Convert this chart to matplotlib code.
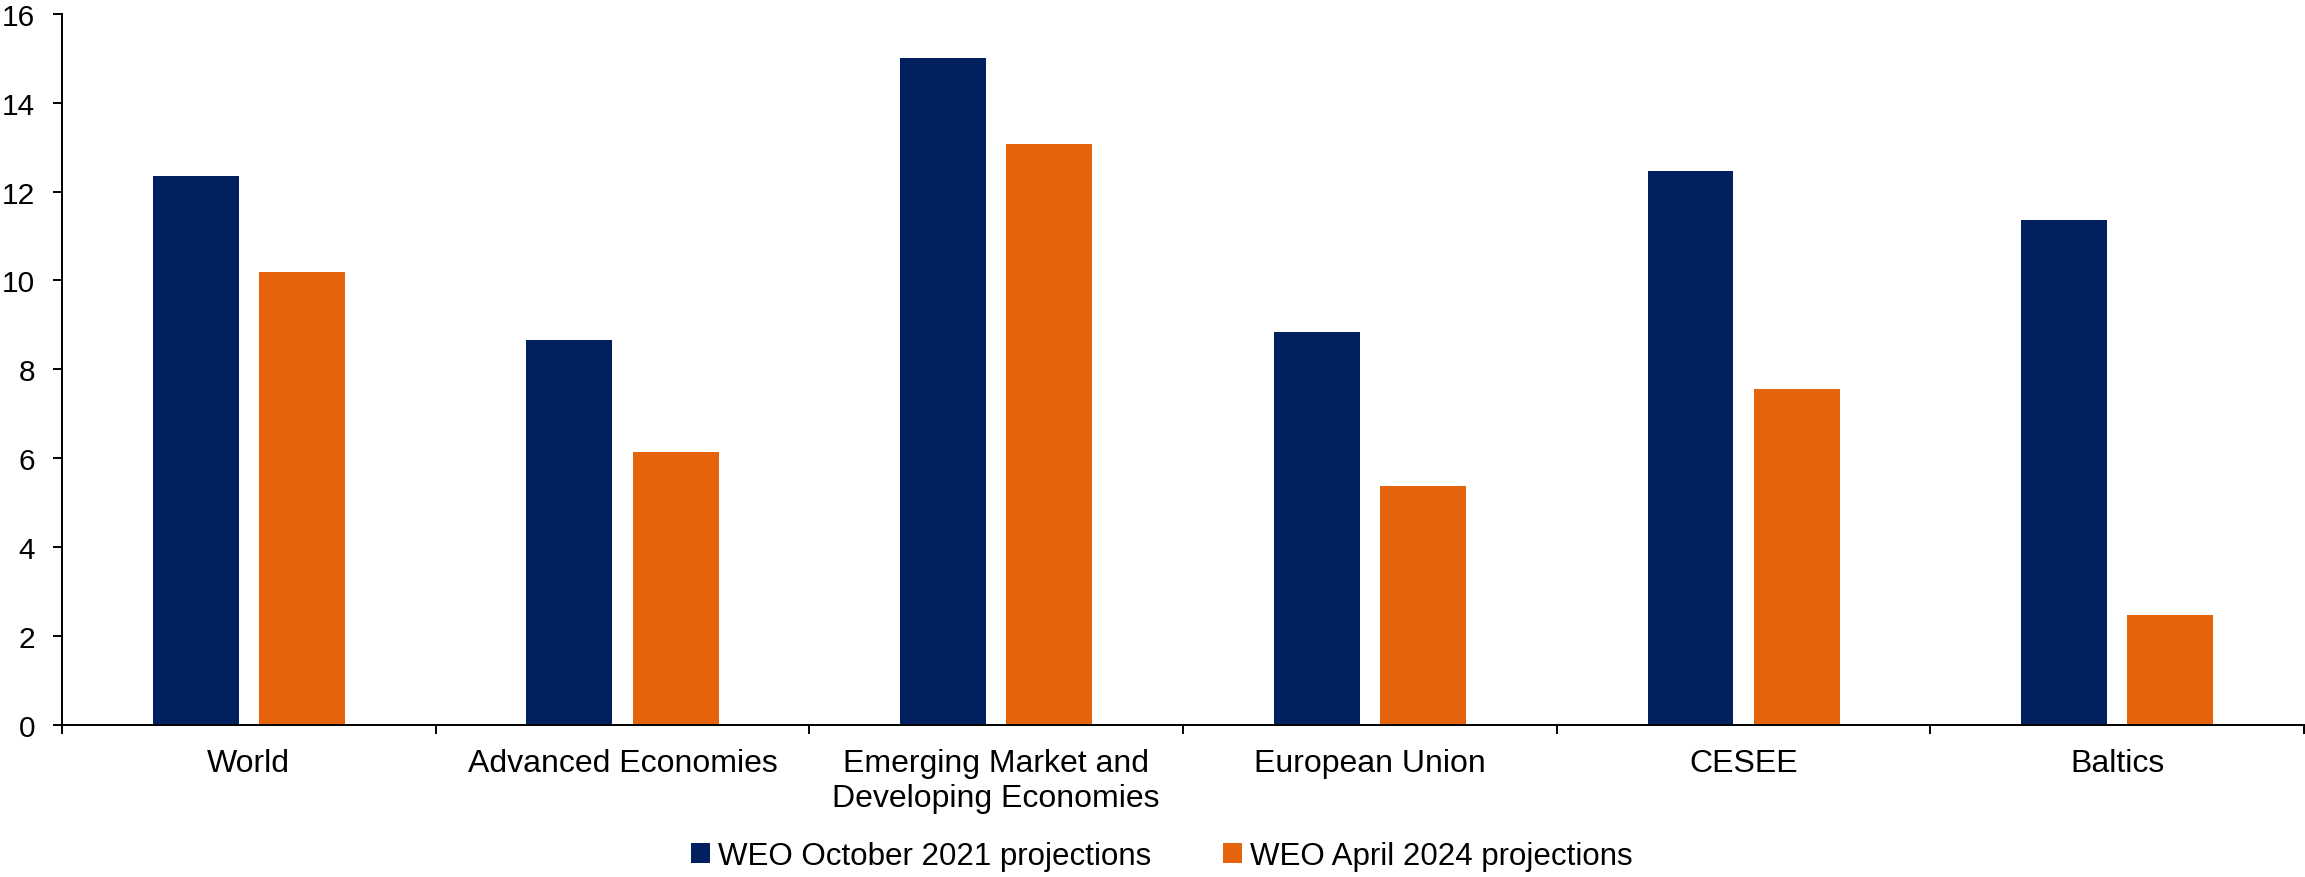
import numpy as np
import matplotlib.pyplot as plt
from matplotlib.ticker import FixedLocator

categories = ["World", "Advanced Economies", "Emerging Market and\nDeveloping Economies",
              "European Union", "CESEE", "Baltics"]
weo_oct_2021 = [12.36, 8.65, 15.0, 8.85, 12.46, 11.37]
weo_apr_2024 = [10.2, 6.13, 13.08, 5.38, 7.56, 2.48]
series_names = ["WEO October 2021 projections", "WEO April 2024 projections"]

navy = "#002060"
orange = "#E5630A"

plt.rcParams["font.family"] = ["Liberation Sans", "DejaVu Sans"]

fig = plt.figure(figsize=(23.05, 8.78), dpi=100)
ax = fig.add_axes([0.0269, 0.1735, 0.9727, 0.8095])

x = np.arange(len(categories))
width = 0.23
offset = 0.142
ax.bar(x - offset, weo_oct_2021, width, color=navy, label=series_names[0])
ax.bar(x + offset, weo_apr_2024, width, color=orange, label=series_names[1])

ax.set_xlim(-0.5, len(categories) - 0.5)
ax.set_ylim(0, 16)
ax.set_yticks(np.arange(0, 17, 2))

ax.set_xticks(x)
ax.set_xticklabels(categories, fontsize=23, linespacing=1.2)
ax.xaxis.set_minor_locator(FixedLocator(np.arange(-0.5, len(categories), 1)))
ax.tick_params(axis="x", which="major", length=0, pad=17)
ax.tick_params(axis="x", which="minor", length=6.5, width=1.4, direction="out")
ax.tick_params(axis="y", length=6.5, width=1.4, direction="out", pad=13, labelsize=21.5)

for side in ["top", "right"]:
    ax.spines[side].set_visible(False)
for side in ["left", "bottom"]:
    ax.spines[side].set_linewidth(1.4)
    ax.spines[side].set_color("black")

fig.legend(loc="center", bbox_to_anchor=(0.504, 0.024), ncol=2, frameon=False,
           fontsize=22.5, handlelength=0.6, handleheight=0.6, handletextpad=0.25,
           columnspacing=2.3)

fig.savefig("out.png", dpi=100)
